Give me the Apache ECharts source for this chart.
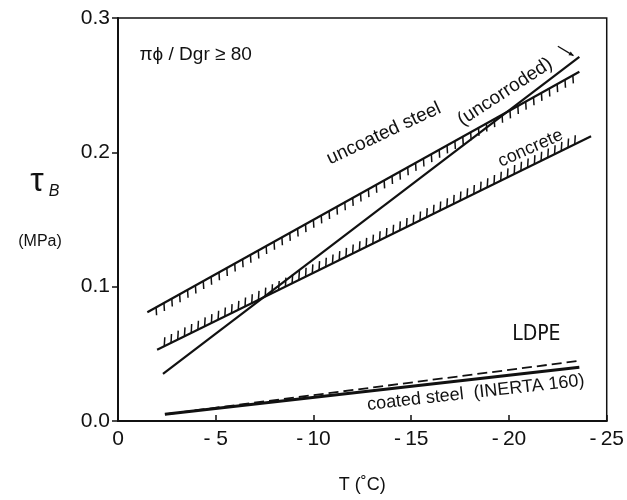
<!DOCTYPE html>
<html>
<head>
<meta charset="utf-8">
<script src="https://cdn.jsdelivr.net/npm/echarts@6/dist/echarts.min.js"></script>
<style>
  html, body { margin: 0; padding: 0; background: #fff; }
  #chart { width: 627px; height: 500px; }
</style>
</head>
<body>
<div id="chart"></div>
<script>
// Bond strength τB versus temperature T for different surfaces in ice.

// Axis ticks
const xTickValues = [0, -5, -10, -15, -20, -25];
const xTickLabels = ['0', '- 5', '-\u200910', '-\u200915', '-\u200920', '-\u200925'];
const yTickValues = [0, 0.1, 0.2, 0.3];
const yTickLabels = ['0.0', '0.1', '0.2', '0.3'];

// Series: temperature (°C) and bond strength (MPa) at the ends of each fitted line
const uncoatedT = [-1.5, -23.6];
const uncoatedTau = [0.081, 0.260];
const uncorrodedT = [-2.3, -23.6];
const uncorrodedTau = [0.035, 0.271];
const concreteT = [-2.0, -24.2];
const concreteTau = [0.053, 0.212];
const coatedT = [-2.4, -23.6];
const coatedTau = [0.005, 0.040];
const ldpeT = [-2.4, -23.7];
const ldpeTau = [0.005, 0.045];

const pairs = (xs, ys) => xs.map((x, i) => [x, ys[i]]);
const segment = (xs, ys) => [[xs[0], ys[0], xs[1], ys[1]]];

const FONT = '"Liberation Sans", Arial, sans-serif';
const INK = '#111';

// Short hatch strokes drawn along a fitted line (marks a bounding surface)
function hatchRenderer(cfg) {
  return function (params, api) {
    const a = api.coord([api.value(0), api.value(1)]);
    const b = api.coord([api.value(2), api.value(3)]);
    const dx = b[0] - a[0], dy = b[1] - a[1];
    const len = Math.hypot(dx, dy);
    const children = [];
    for (let s = cfg.startPad; s <= len - cfg.endPad; s += cfg.spacing) {
      const x = a[0] + dx * s / len;
      const y = a[1] + dy * s / len;
      children.push({
        type: 'line',
        shape: { x1: x, y1: y, x2: x + cfg.slant, y2: y + cfg.dir * cfg.length },
        style: { stroke: INK, lineWidth: 1.5 }
      });
    }
    return { type: 'group', children };
  };
}

const chart = echarts.init(document.getElementById('chart'), null, { renderer: 'canvas' });

const lineStyle = (w, type) => ({ color: INK, width: w, type: type || 'solid' });

chart.setOption({
  animation: false,
  backgroundColor: '#fff',
  grid: {
    left: 118, right: 14, top: 18, bottom: 79,
    show: true, borderColor: INK, borderWidth: 1.5, backgroundColor: 'transparent'
  },
  xAxis: {
    type: 'value',
    min: -25, max: 0, interval: 5, inverse: true,
    name: 'T (˚C)', nameLocation: 'middle', nameGap: 55,
    nameTextStyle: { color: INK, fontSize: 18, fontFamily: FONT },
    axisLine: { lineStyle: { color: INK, width: 2 } },
    axisTick: { inside: true, length: 6, lineStyle: { color: INK, width: 1.5 } },
    axisLabel: {
      color: INK, fontSize: 21, fontFamily: FONT, margin: 8,
      formatter: v => xTickLabels[xTickValues.indexOf(Math.round(v))] || ''
    },
    splitLine: { show: false }
  },
  yAxis: {
    type: 'value',
    min: 0, max: 0.3, interval: 0.1,
    axisLine: { lineStyle: { color: INK, width: 2 } },
    axisTick: { inside: false, length: 6, lineStyle: { color: INK, width: 1.5 } },
    axisLabel: {
      color: INK, fontSize: 21, fontFamily: FONT, margin: 8,
      formatter: v => yTickLabels[yTickValues.findIndex(t => Math.abs(t - v) < 1e-9)] || ''
    },
    splitLine: { show: false }
  },
  series: [
    { name: 'uncoated steel', type: 'line', data: pairs(uncoatedT, uncoatedTau),
      symbol: 'none', lineStyle: lineStyle(2.2), z: 3 },
    { name: 'uncorroded', type: 'line', data: pairs(uncorrodedT, uncorrodedTau),
      symbol: 'none', lineStyle: lineStyle(2.2), z: 3 },
    { name: 'concrete', type: 'line', data: pairs(concreteT, concreteTau),
      symbol: 'none', lineStyle: lineStyle(2.2), z: 3 },
    { name: 'coated steel (INERTA 160)', type: 'line', data: pairs(coatedT, coatedTau),
      symbol: 'none', lineStyle: lineStyle(3), z: 3 },
    { name: 'LDPE', type: 'line', data: pairs(ldpeT, ldpeTau),
      symbol: 'none', lineStyle: lineStyle(1.8, [10, 5]), z: 3 },
    { name: 'uncoated steel hatch', type: 'custom', coordinateSystem: 'cartesian2d',
      encode: { x: [0, 2], y: [1, 3] }, data: segment(uncoatedT, uncoatedTau),
      renderItem: hatchRenderer({ dir: 1, spacing: 9, length: 8, slant: 0.5, startPad: 10, endPad: 6 }), z: 2 },
    { name: 'concrete hatch', type: 'custom', coordinateSystem: 'cartesian2d',
      encode: { x: [0, 2], y: [1, 3] }, data: segment(concreteT, concreteTau),
      renderItem: hatchRenderer({ dir: -1, spacing: 7.5, length: 9, slant: 0.5, startPad: 8, endPad: 12 }), z: 2 }
  ]
});

// Annotations placed in data coordinates
const notes = [
  { text: 'πϕ / Dgr ≥ 80', at: [-1.1, 0.2725], rot: 0, size: 19, align: 'left' },
  { text: 'uncoated steel', at: [-13.6, 0.214], rot: 25, size: 19, align: 'center' },
  { text: '(uncorroded)', at: [-19.8, 0.245], rot: 33, size: 19, align: 'center' },
  { text: 'concrete', at: [-21.1, 0.203], rot: 24, size: 18, align: 'center' },
  { text: 'coated steel  (INERTA 160)', at: [-18.3, 0.021], rot: 6.4, size: 18, align: 'center' }
];

const px = p => chart.convertToPixel({ gridIndex: 0 }, p);
const graphics = notes.map(n => {
  const p = px(n.at);
  return {
    type: 'text', x: p[0], y: p[1], rotation: n.rot * Math.PI / 180,
    style: { text: n.text, fill: INK, font: n.size + 'px ' + FONT, align: n.align, verticalAlign: 'middle' }
  };
});

// LDPE tag in hand-lettered style
const ldpePos = px([-21.4, 0.064]);
graphics.push({
  type: 'text', x: ldpePos[0], y: ldpePos[1],
  style: { text: 'LDPE', fill: INK, font: '21px "DejaVu Sans Condensed", "Liberation Sans Narrow", sans-serif',
           align: 'center', verticalAlign: 'middle' }
});

// Small arrow from the "(uncorroded)" note to its line
const arrA = px([-22.5, 0.279]);
const arrB = px([-23.3, 0.272]);
const ang = Math.atan2(arrB[1] - arrA[1], arrB[0] - arrA[0]);
const head = 5;
graphics.push({
  type: 'line', shape: { x1: arrA[0], y1: arrA[1], x2: arrB[0], y2: arrB[1] },
  style: { stroke: INK, lineWidth: 1.3 }
});
graphics.push({
  type: 'polygon',
  shape: { points: [
    [arrB[0], arrB[1]],
    [arrB[0] - head * Math.cos(ang - 0.45), arrB[1] - head * Math.sin(ang - 0.45)],
    [arrB[0] - head * Math.cos(ang + 0.45), arrB[1] - head * Math.sin(ang + 0.45)]
  ] },
  style: { fill: INK }
});

// Y-axis title: τB (MPa)
graphics.push({ type: 'text', x: 37, y: 182,
  style: { text: 'τ', fill: INK, font: '34px ' + FONT, align: 'center', verticalAlign: 'middle' } });
graphics.push({ type: 'text', x: 54, y: 192,
  style: { text: 'B', fill: INK, font: 'italic 16px ' + FONT, align: 'center', verticalAlign: 'middle' } });
graphics.push({ type: 'text', x: 40, y: 242,
  style: { text: '(MPa)', fill: INK, font: '16px ' + FONT, align: 'center', verticalAlign: 'middle' } });

chart.setOption({ graphic: graphics });
</script>
</body>
</html>
